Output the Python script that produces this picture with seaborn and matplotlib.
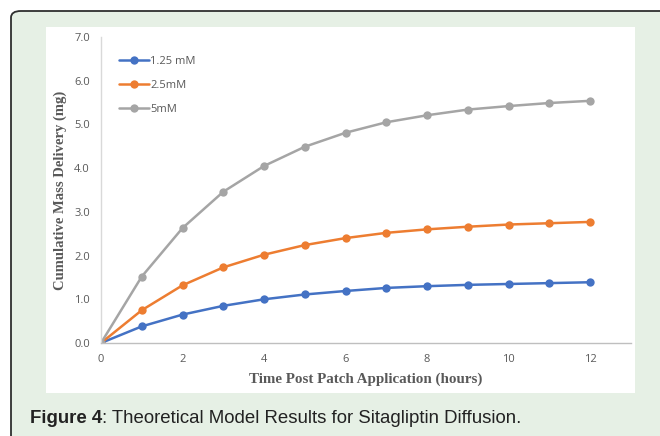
import pandas as pd
import numpy as np
import matplotlib.pyplot as plt
import seaborn as sns
from matplotlib.patches import FancyBboxPatch, Rectangle

# values
hours = [0, 1, 2, 3, 4, 5, 6, 7, 8, 9, 10, 11, 12]
conc_125 = [0, 0.38, 0.65, 0.85, 1.00, 1.11, 1.19, 1.26, 1.30, 1.33, 1.35, 1.37, 1.39]
conc_25 = [0, 0.75, 1.32, 1.73, 2.02, 2.24, 2.40, 2.52, 2.60, 2.66, 2.71, 2.74, 2.77]
conc_5 = [0, 1.52, 2.63, 3.46, 4.05, 4.49, 4.81, 5.05, 5.21, 5.34, 5.42, 5.49, 5.54]
series_names = ['1.25 mM', '2.5mM', '5mM']
colors = ['#4472C4', '#ED7D31', '#A5A5A5']
x_ticks = [0, 2, 4, 6, 8, 10, 12]
y_ticks = [0, 1, 2, 3, 4, 5, 6, 7]


def make_plot():
    df = pd.DataFrame({
        'hours': hours * 3,
        'mass': conc_125 + conc_25 + conc_5,
        'series': [series_names[0]] * 13 + [series_names[1]] * 13 + [series_names[2]] * 13,
    })

    sns.set_style('white')
    W, H = 660, 436
    fig = plt.figure(figsize=(6.6, 4.36), dpi=100)
    fig.patch.set_facecolor('white')

    # green caption box with dark border
    box = FancyBboxPatch((11 / W, -0.1), 1.2, 1 - 11 / H + 0.1,
                         boxstyle='round,pad=0,rounding_size=0.015',
                         transform=fig.transFigure, facecolor='#E6F0E5',
                         edgecolor='#2f2f2f', linewidth=1.3, zorder=-2)
    fig.add_artist(box)
    # white chart area
    fig.add_artist(Rectangle((46 / W, 1 - 393 / H), (635 - 46) / W, (393 - 27) / H,
                             transform=fig.transFigure, facecolor='white',
                             edgecolor='none', zorder=-1))

    ax = fig.add_axes([101 / W, 93 / H, 530 / W, 306 / H])
    ax.set_facecolor('none')
    sns.lineplot(data=df, x='hours', y='mass', hue='series', palette=colors,
                 marker='o', markersize=6, markeredgewidth=0, linewidth=1.8, ax=ax)

    ax.set_xlim(0, 13)
    ax.set_ylim(0, 7)
    ax.set_xticks(x_ticks)
    ax.set_yticks(y_ticks)
    ax.set_yticklabels([f'{v:.1f}' for v in y_ticks])
    ax.tick_params(axis='both', length=0, labelsize=8, labelcolor='#595959', pad=8)
    for lab in ax.get_xticklabels() + ax.get_yticklabels():
        lab.set_family('Open Sans')

    for s in ['top', 'right']:
        ax.spines[s].set_visible(False)
    ax.spines['left'].set_color('#D9D9D9')
    ax.spines['bottom'].set_color('#BFBFBF')
    ax.spines['left'].set_linewidth(1)
    ax.spines['bottom'].set_linewidth(1)

    ax.set_xlabel('Time Post Patch Application (hours)', family='Liberation Serif',
                  fontweight='bold', fontsize=10.8, color='#595959', labelpad=5)
    ax.set_ylabel('Cumulative Mass Delivery (mg)', family='Liberation Serif',
                  fontweight='bold', fontsize=10.5, color='#595959', labelpad=5)

    leg = ax.legend(loc='upper left', bbox_to_anchor=(0.015, 0.97), frameon=False,
                    handlelength=2.7, handletextpad=0.1, labelspacing=1.15,
                    prop={'family': 'Open Sans', 'size': 8})
    for t in leg.get_texts():
        t.set_color('#595959')

    t1 = fig.text(30 / W, 1 - 418 / H, 'Figure 4', fontsize=13.4, fontweight='bold',
                  family='Liberation Sans', color='#222222', va='center')
    ann = plt.annotate(': Theoretical Model Results for Sitagliptin Diffusion.', xy=(1, 0.5),
                       xycoords=t1, va='center', fontsize=13.4, family='Liberation Sans',
                       color='#222222', annotation_clip=False)
    ann.set_zorder(5)

    fig.savefig('out.png', dpi=100)
    plt.close()


if __name__ == "__main__":
    make_plot()
